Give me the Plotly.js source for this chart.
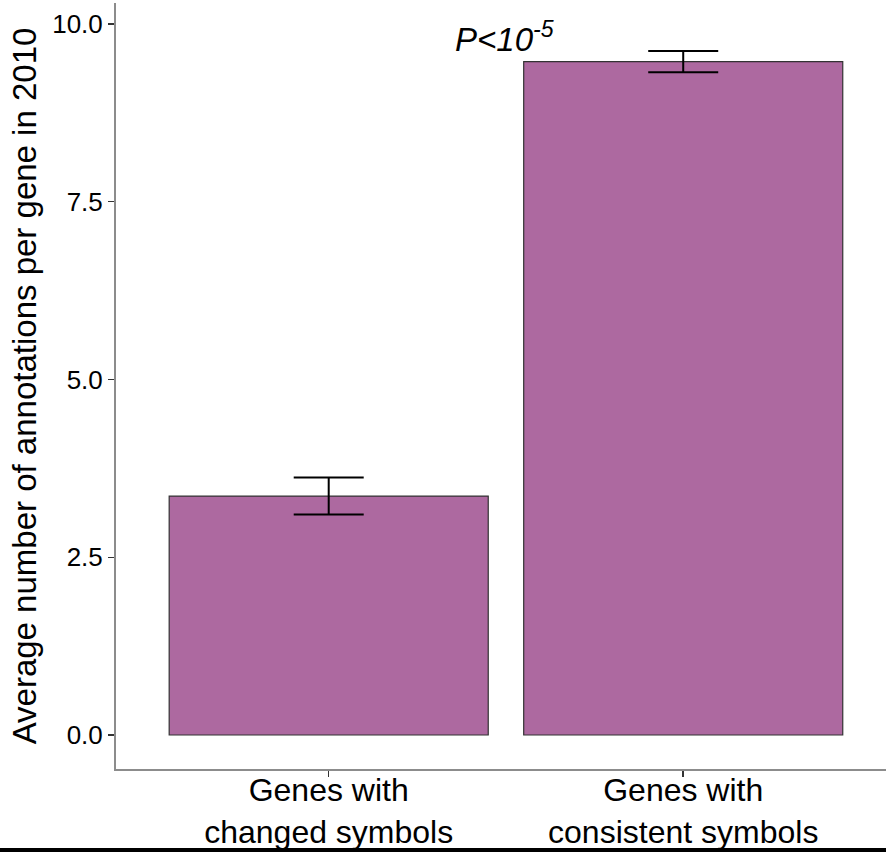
<!DOCTYPE html>
<html>
<head>
<meta charset="utf-8">
<script src="https://cdn.plot.ly/plotly-3.0.1.min.js"></script>
<style>
  html, body { margin: 0; padding: 0; background: #fff; }
  #chart { width: 886px; height: 852px; position: relative; }
  #border { position: absolute; left: 0; top: 848px; width: 886px; height: 4px; background: #000; }
</style>
</head>
<body>
<div id="chart"></div>
<div id="border"></div>
<script>
// Data
var categories = ["Genes with<br>changed symbols", "Genes with<br>consistent symbols"];
var xPositions = [1, 2];
var meanValues = [3.36, 9.47];
var errorValues = [0.26, 0.15];
var yTickValues = [0, 2.5, 5, 7.5, 10];
var yTickLabels = ["0.0", "2.5", "5.0", "7.5", "10.0"];
var pLabel = "<i>P&lt;10<sup>-5</sup></i>";

var FONT = "Liberation Sans, Arial, Helvetica, sans-serif";

var trace = {
  type: "bar",
  x: xPositions,
  y: meanValues,
  width: 0.9,
  marker: { color: "#AD69A0", line: { color: "#333333", width: 1.2 } },
  error_y: { type: "data", array: errorValues, visible: true, color: "#000000", thickness: 2, width: 35 },
  hoverinfo: "skip"
};

var layout = {
  width: 886,
  height: 852,
  margin: { l: 116, r: 0, t: 3, b: 83 },
  paper_bgcolor: "#ffffff",
  plot_bgcolor: "#ffffff",
  showlegend: false,
  font: { family: FONT, color: "#000000" },
  xaxis: {
    range: [0.4, 2.572],
    tickmode: "array",
    tickvals: xPositions,
    ticktext: categories,
    ticks: "outside",
    ticklen: 6,
    tickwidth: 1.5,
    tickcolor: "#333333",
    ticklabelstandoff: -14,
    showline: true,
    linecolor: "#8c8c8c",
    linewidth: 2,
    showgrid: false,
    zeroline: false,
    tickfont: { family: FONT, size: 32, color: "#000000" },
    fixedrange: true
  },
  yaxis: {
    range: [-0.478, 10.295],
    tickmode: "array",
    tickvals: yTickValues,
    ticktext: yTickLabels,
    ticks: "outside",
    ticklen: 6,
    tickwidth: 1.5,
    tickcolor: "#333333",
    showline: true,
    linecolor: "#8c8c8c",
    linewidth: 2,
    showgrid: false,
    zeroline: false,
    tickfont: { family: FONT, size: 26, color: "#000000" },
    title: { text: "Average number of annotations per gene in 2010", font: { family: FONT, size: 33, color: "#000000" }, standoff: 6 },
    fixedrange: true
  },
  annotations: [{
    x: 1.495,
    y: 9.81,
    xref: "x",
    yref: "y",
    text: pLabel,
    showarrow: false,
    xanchor: "center",
    yanchor: "middle",
    font: { family: FONT, size: 33, color: "#000000" }
  }]
};

Plotly.newPlot("chart", [trace], layout, { displayModeBar: false, staticPlot: true });
</script>
</body>
</html>
